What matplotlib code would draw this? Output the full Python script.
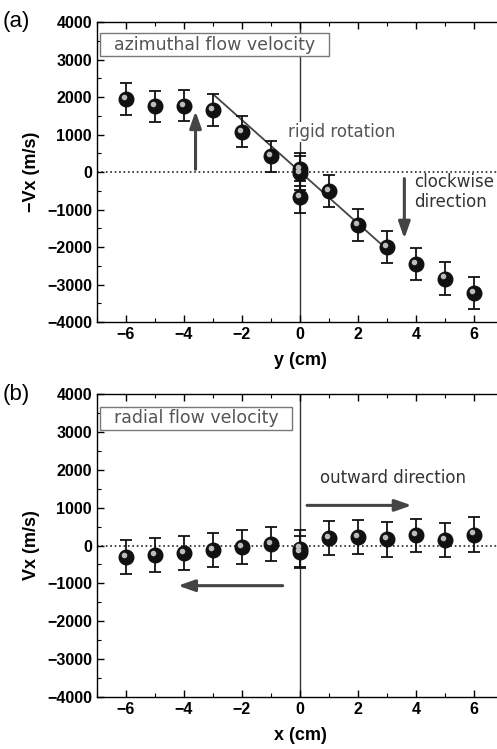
import matplotlib
matplotlib.use('Agg')
import matplotlib.pyplot as plt
import matplotlib.transforms as mtransforms
import numpy as np

plt.rcParams['font.family'] = ['Liberation Sans', 'DejaVu Sans']

# (a) azimuthal flow: -Vx vs y
pos_a = [-6, -5, -4, -3, -2, -1, 0, 0, 0, 1, 2, 3, 4, 5, 6]
vel_a = [1950, 1750, 1770, 1650, 1080, 420, 80, -20, -660, -500, -1410, -2000, -2460, -2840, -3220]
err_a = [430, 420, 420, 430, 420, 420, 440, 460, 430, 430, 420, 420, 430, 430, 430]
rigid_x = [-3, 3]
rigid_y = [2080, -2060]

# (b) radial flow: Vx vs x
pos_b = [-6, -5, -4, -3, -2, -1, 0, 0, 1, 2, 3, 4, 5, 6]
vel_b = [-300, -240, -190, -130, -50, 40, -80, -180, 190, 220, 160, 270, 150, 290]
err_b = [450, 450, 450, 450, 450, 450, 480, 420, 450, 450, 450, 430, 450, 460]

xticks = [-6, -4, -2, 0, 2, 4, 6]
yticks = [-4000, -3000, -2000, -1000, 0, 1000, 2000, 3000, 4000]

fig = plt.figure(figsize=(4.97, 7.49), dpi=100)
ax_a = fig.add_axes([0.195, 0.570, 0.817, 0.4005])
ax_b = fig.add_axes([0.195, 0.0694, 0.817, 0.4045])

gray = '#555555'
note_font = 'DejaVu Sans'


def style_axes(ax, xlabel, ylabel):
    ax.set_xlim(-7, 7)
    ax.set_ylim(-4000, 4000)
    ax.set_xticks(xticks)
    ax.set_yticks(yticks)
    ax.set_xticks(np.arange(-7, 8, 1), minor=True)
    ax.set_yticks(np.arange(-4000, 4001, 500), minor=True)
    ax.set_xticklabels([str(t).replace('-', '\u2212') for t in xticks])
    ax.set_yticklabels([str(t).replace('-', '\u2212') for t in yticks])
    ax.tick_params(which='both', direction='in', top=True, right=False, labelsize=11.5)
    ax.tick_params(which='major', length=5, width=1)
    ax.tick_params(which='minor', length=3, width=0.8)
    for lab in ax.get_xticklabels() + ax.get_yticklabels():
        lab.set_fontweight('bold')
    ax.spines['right'].set_visible(False)
    for s in ['left', 'bottom', 'top']:
        ax.spines[s].set_linewidth(1.0)
    ax.set_xlabel(xlabel, fontsize=13, fontweight='bold', labelpad=7)
    ax.set_ylabel(ylabel, fontsize=13, fontweight='bold', labelpad=5)
    ax.axhline(0, color='#222222', ls=':', lw=1.2, zorder=1)
    ax.axvline(0, color='#333333', lw=1.0, zorder=1)


def draw_points(ax, x, y, e):
    ax.errorbar(x, y, yerr=e, fmt='none', ecolor='#111111', elinewidth=1.3,
                capsize=4, capthick=1.3, zorder=3)
    ax.plot(x, y, 'o', color='#111111', markersize=10.5, zorder=4)
    shift = mtransforms.offset_copy(ax.transData, fig=fig, x=-1.5, y=1.5, units='points')
    ax.plot(x, y, 'o', color='#bbbbbb', markersize=3, transform=shift, zorder=5)


arrow_props = dict(arrowstyle='-|>,head_width=0.35,head_length=1.0', lw=2.2, color='#444444')

# panel (a)
style_axes(ax_a, 'y (cm)', '\u2212Vx (m/s)')
ax_a.plot(rigid_x, rigid_y, color='#444444', lw=1.3, zorder=2)
draw_points(ax_a, pos_a, vel_a, err_a)
ax_a.text(0.015, 0.955, '  azimuthal flow velocity  ', transform=ax_a.transAxes,
          fontsize=12.5, color=gray, va='top', ha='left', family=note_font,
          bbox=dict(facecolor='white', edgecolor='#777777', boxstyle='square,pad=0.15'))
ax_a.text(1.45, 1070, 'rigid rotation', fontsize=12, color=gray, ha='center', va='center',
          family=note_font, bbox=dict(facecolor='white', edgecolor='none', pad=1))
ax_a.text(3.95, -530, 'clockwise\ndirection', fontsize=12, color='#333333',
          ha='left', va='center', linespacing=1.1, family=note_font)
ax_a.annotate('', xy=(-3.6, 1700), xytext=(-3.6, 0), arrowprops=arrow_props)
ax_a.annotate('', xy=(3.6, -1850), xytext=(3.6, -100), arrowprops=arrow_props)
fig.text(0.005, 0.971, '(a)', fontsize=16, ha='left', va='center')

# panel (b)
style_axes(ax_b, 'x (cm)', 'Vx (m/s)')
draw_points(ax_b, pos_b, vel_b, err_b)
ax_b.text(0.015, 0.95, '  radial flow velocity  ', transform=ax_b.transAxes,
          fontsize=12.5, color=gray, va='top', ha='left', family=note_font,
          bbox=dict(facecolor='white', edgecolor='#777777', boxstyle='square,pad=0.15'))
ax_b.text(0.7, 1780, 'outward direction', fontsize=12, color='#333333',
          ha='left', va='center', family=note_font)
ax_b.annotate('', xy=(3.95, 1060), xytext=(0.15, 1060), arrowprops=arrow_props)
ax_b.annotate('', xy=(-4.3, -1060), xytext=(-0.5, -1060), arrowprops=arrow_props)
fig.text(0.005, 0.473, '(b)', fontsize=16, ha='left', va='center')

fig.savefig('out.png', dpi=100)
